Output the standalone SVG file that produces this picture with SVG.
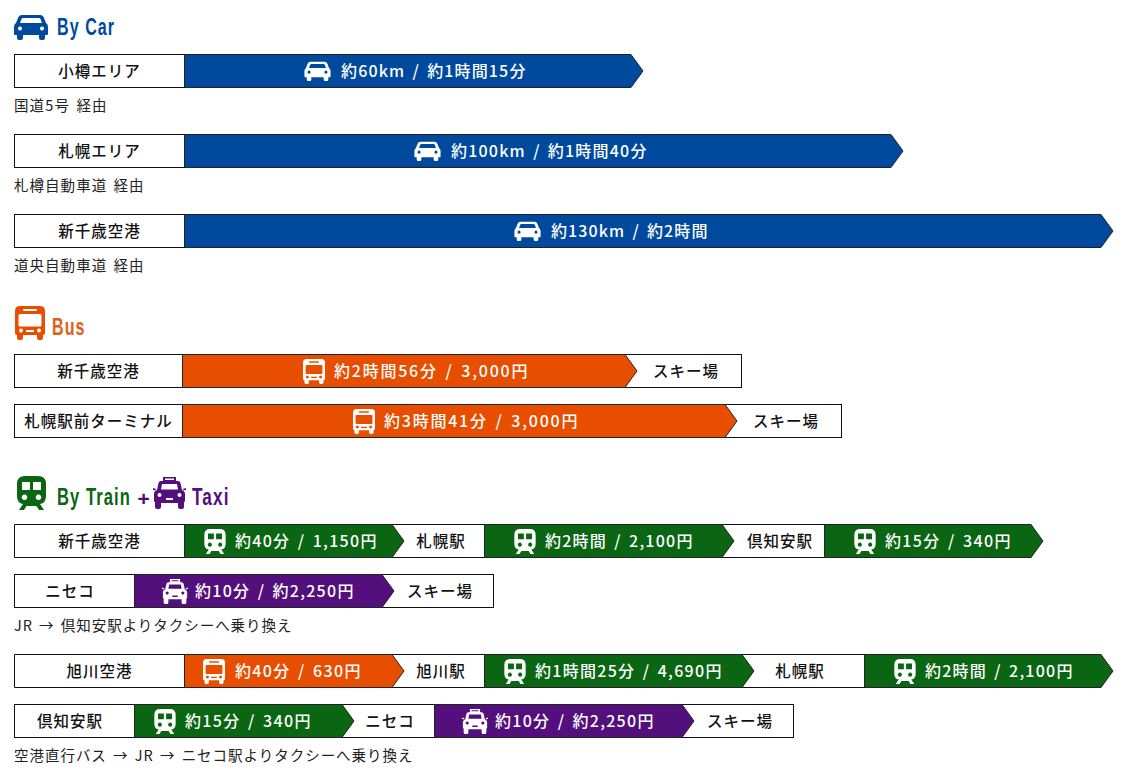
<svg xmlns="http://www.w3.org/2000/svg" width="1125" height="779" viewBox="0 0 1125 779">
<style>
text{font-family:"Noto Sans CJK JP","Noto Sans",sans-serif;font-weight:500;font-size:15.500px;letter-spacing:1px;fill:#111;text-anchor:middle}
.w{fill:#fff;text-anchor:start;font-size:16px;letter-spacing:.6px;word-spacing:2.500px}
.n{font-size:14.500px;font-weight:400;text-anchor:start;letter-spacing:.5px;word-spacing:2px;fill:#222}
.h{font-family:"Liberation Sans",sans-serif;font-weight:700;font-size:23px;text-anchor:start;letter-spacing:1.500px}
.box{fill:#fff;stroke:#111;stroke-width:1}
.blue{fill:#004a9e}.or{fill:#e84e00}.gr{fill:#0a6612}.pu{fill:#53107c}
.seg{stroke:#222;stroke-width:1}
.wi{color:#fff}
</style>
<defs>
<symbol id="car" viewBox="0 0 34 26"><path fill="currentColor" fill-rule="evenodd" d="M8 1H26Q29 1 30 4L32 9Q34 10 34 13V20Q34 21 33 21H31V24Q31 26 29 26H27Q25 26 25 24V21H9V24Q9 26 7 26H5Q3 26 3 24V21H1Q0 21 0 20V13Q0 10 2 9L4 4Q5 1 8 1ZM9 4Q8 4 7.500 5L6 9H28L26.500 5Q26 4 25 4ZM6 12.500A2 2 0 1 0 6.010 12.500ZM28 12.500A2 2 0 1 0 28.010 12.500Z"/></symbol>
<symbol id="bus" viewBox="0 0 30 34"><path fill="currentColor" fill-rule="evenodd" d="M5 0H25Q30 0 30 5V27Q30 29 28 29V32Q28 34 26 34H24Q22 34 22 32V29H8V32Q8 34 6 34H4Q2 34 2 32V29Q0 29 0 27V5Q0 0 5 0ZM5 8Q3.500 8 3.500 9.500V19Q3.500 20.500 5 20.500H25Q26.500 20.500 26.500 19V9.500Q26.500 8 25 8ZM9 3Q8 3 8 4T9 5H21Q22 5 22 4T21 3ZM6 22.500A2 2 0 1 0 6.010 22.500ZM24 22.500A2 2 0 1 0 24.010 22.500ZM11 24V26H19V24Z"/></symbol>
<symbol id="train" viewBox="0 0 29 34"><path fill="currentColor" fill-rule="evenodd" d="M8 0H21Q29 0 29 8V20Q29 27 23 28L27 34H22L19.500 30H9.500L7 34H2L6 28Q0 27 0 20V8Q0 0 8 0ZM5 6V14H13V6ZM16 6V14H24V6ZM7.500 18.500A2.800 2.800 0 1 0 7.510 18.500ZM21.500 18.500A2.800 2.800 0 1 0 21.510 18.500Z"/></symbol>
<symbol id="taxi" viewBox="0 0 33 32"><path fill="currentColor" fill-rule="evenodd" d="M10 0H23V4H25Q27 4 27.500 6L29 13Q32 14 32 17V24Q32 25 31 25V30Q31 32 29 32H27Q25 32 25 30V26H8V30Q8 32 6 32H4Q2 32 2 30V25Q1 25 1 24V17Q1 14 4 13L5.500 6Q6 4 8 4H10ZM12 1.500V3H21V1.500ZM9 7L8 12.500H25L24 7ZM6.500 16A2 2 0 1 0 6.510 16ZM26.500 16A2 2 0 1 0 26.510 16ZM13 21V23H20V21Z"/><path fill="currentColor" d="M0 11l3 1-.5 1.500-3-1ZM33 11l-3 1 .5 1.500 3-1Z"/></symbol>
</defs>

<g id="connectors"></g>

<g id="head-car"><use href="#car" x="14" y="14" width="34" height="26" style="color:#004a9e"/><text class="h" transform="translate(57 35) scale(.7 1)" style="fill:#004a9e">By Car</text></g>

<g id="car-otaru"><rect class="box" x="14.500" y="54.500" width="170" height="33"/><path class="blue seg" d="M184.500 54.500H631L643 71L631 87.500H184.500Z"/><text x="99.500" y="76.500">小樽エリア</text><use class="wi" href="#car" x="304" y="61" width="27" height="20"/><text class="w" x="341" y="76.500" textLength="185">約60km / 約1時間15分</text><text class="n" x="14" y="110.500" textLength="93">国道5号 経由</text></g>

<g id="car-sapporo"><rect class="box" x="14.500" y="134.500" width="170" height="33"/><path class="blue seg" d="M184.500 134.500H891L903 151L891 167.500H184.500Z"/><text x="99.500" y="156.500">札幌エリア</text><use class="wi" href="#car" x="414" y="141" width="27" height="20"/><text class="w" x="451" y="156.500" textLength="196">約100km / 約1時間40分</text><text class="n" x="14" y="190.500" textLength="130">札樽自動車道 経由</text></g>

<g id="car-chitose"><rect class="box" x="14.500" y="214.500" width="170" height="33"/><path class="blue seg" d="M184.500 214.500H1101L1113 231L1101 247.500H184.500Z"/><text x="99.500" y="236.500">新千歳空港</text><use class="wi" href="#car" x="514" y="221" width="27" height="20"/><text class="w" x="551" y="236.500" textLength="157">約130km / 約2時間</text><text class="n" x="14" y="270.500" textLength="130">道央自動車道 経由</text></g>

<g id="head-bus"><use href="#bus" x="15" y="306" width="30" height="34" style="color:#e84e00"/><text class="h" transform="translate(52 335) scale(.7 1)" style="fill:#e0601a">Bus</text></g>

<g id="bus-chitose"><rect class="box" x="14.500" y="354.500" width="727" height="33"/><path class="or seg" d="M182.500 354.500H625L637 371L625 387.500H182.500Z"/><text x="98.500" y="376.500">新千歳空港</text><use class="wi" href="#bus" x="303" y="359" width="22" height="25"/><text class="w" x="334" y="376.500" textLength="194">約2時間56分 / 3,000円</text><text x="686" y="376.500">スキー場</text></g>

<g id="bus-sapporo"><rect class="box" x="14.500" y="404.500" width="827" height="33"/><path class="or seg" d="M182.500 404.500H725L737 421L725 437.500H182.500Z"/><text x="98.500" y="426.500">札幌駅前ターミナル</text><use class="wi" href="#bus" x="353" y="409" width="22" height="25"/><text class="w" x="384" y="426.500" textLength="194">約3時間41分 / 3,000円</text><text x="786" y="426.500">スキー場</text></g>

<g id="head-train-taxi"><use href="#train" x="17" y="476" width="29" height="34" style="color:#0a6612"/><text class="h" transform="translate(57 505) scale(.72 1)" style="fill:#0a6612">By Train</text><text class="h" x="137.500" y="506" style="fill:#4a1070;font-size:21px;letter-spacing:0">+</text><use href="#taxi" x="153" y="477" width="33" height="32" style="color:#53107c"/><text class="h" transform="translate(192 505) scale(.75 1)" style="fill:#53107c">Taxi</text></g>

<g id="train-chitose"><path class="box" d="M14.500 524.500H1031V557.500H14.500Z"/><path class="gr seg" d="M184.500 524.500H392L404 541L392 557.500H184.500Z"/><path class="gr seg" d="M484.500 524.500H722L734 541L722 557.500H484.500Z"/><path class="gr seg" d="M824.500 524.500H1031L1043 541L1031 557.500H824.500Z"/><text x="99.500" y="546.500">新千歳空港</text><use class="wi" href="#train" x="204" y="529" width="22" height="25"/><text class="w" x="235" y="546.500" textLength="142">約40分 / 1,150円</text><text x="441" y="546.500">札幌駅</text><use class="wi" href="#train" x="514" y="529" width="22" height="25"/><text class="w" x="545" y="546.500" textLength="148">約2時間 / 2,100円</text><text x="780" y="546.500">倶知安駅</text><use class="wi" href="#train" x="854" y="529" width="22" height="25"/><text class="w" x="885" y="546.500" textLength="126">約15分 / 340円</text></g>

<g id="taxi-niseko"><rect class="box" x="14.500" y="574.500" width="479" height="33"/><path class="pu seg" d="M134.500 574.500H382L394 591L382 607.500H134.500Z"/><text x="70" y="596.500">ニセコ</text><use class="wi" href="#taxi" x="162" y="579" width="26" height="25"/><text class="w" x="195" y="596.500" textLength="159">約10分 / 約2,250円</text><text x="440" y="596.500">スキー場</text><text class="n" x="14" y="630.500" textLength="278">JR → 倶知安駅よりタクシーへ乗り換え</text></g>

<g id="route-asahikawa"><path class="box" d="M14.500 654.500H1101V687.500H14.500Z"/><path class="or seg" d="M184.500 654.500H392L404 671L392 687.500H184.500Z"/><path class="gr seg" d="M484.500 654.500H742L754 671L742 687.500H484.500Z"/><path class="gr seg" d="M864.500 654.500H1101L1113 671L1101 687.500H864.500Z"/><text x="99.500" y="676.500">旭川空港</text><use class="wi" href="#bus" x="203" y="659" width="22" height="25"/><text class="w" x="235" y="676.500" textLength="126">約40分 / 630円</text><text x="441" y="676.500">旭川駅</text><use class="wi" href="#train" x="504" y="659" width="22" height="25"/><text class="w" x="535" y="676.500" textLength="187">約1時間25分 / 4,690円</text><text x="800" y="676.500">札幌駅</text><use class="wi" href="#train" x="894" y="659" width="22" height="25"/><text class="w" x="925" y="676.500" textLength="148">約2時間 / 2,100円</text></g>

<g id="route-kutchan"><rect class="box" x="14.500" y="704.500" width="779" height="33"/><path class="gr seg" d="M134.500 704.500H342L354 721L342 737.500H134.500Z"/><path class="pu seg" d="M434.500 704.500H682L694 721L682 737.500H434.500Z"/><text x="70" y="726.500">倶知安駅</text><use class="wi" href="#train" x="154" y="709" width="22" height="25"/><text class="w" x="185" y="726.500" textLength="126">約15分 / 340円</text><text x="390" y="726.500">ニセコ</text><use class="wi" href="#taxi" x="462" y="709" width="26" height="25"/><text class="w" x="495" y="726.500" textLength="159">約10分 / 約2,250円</text><text x="740" y="726.500">スキー場</text><text class="n" x="14" y="760.500" textLength="399">空港直行バス → JR → ニセコ駅よりタクシーへ乗り換え</text></g>
</svg>
